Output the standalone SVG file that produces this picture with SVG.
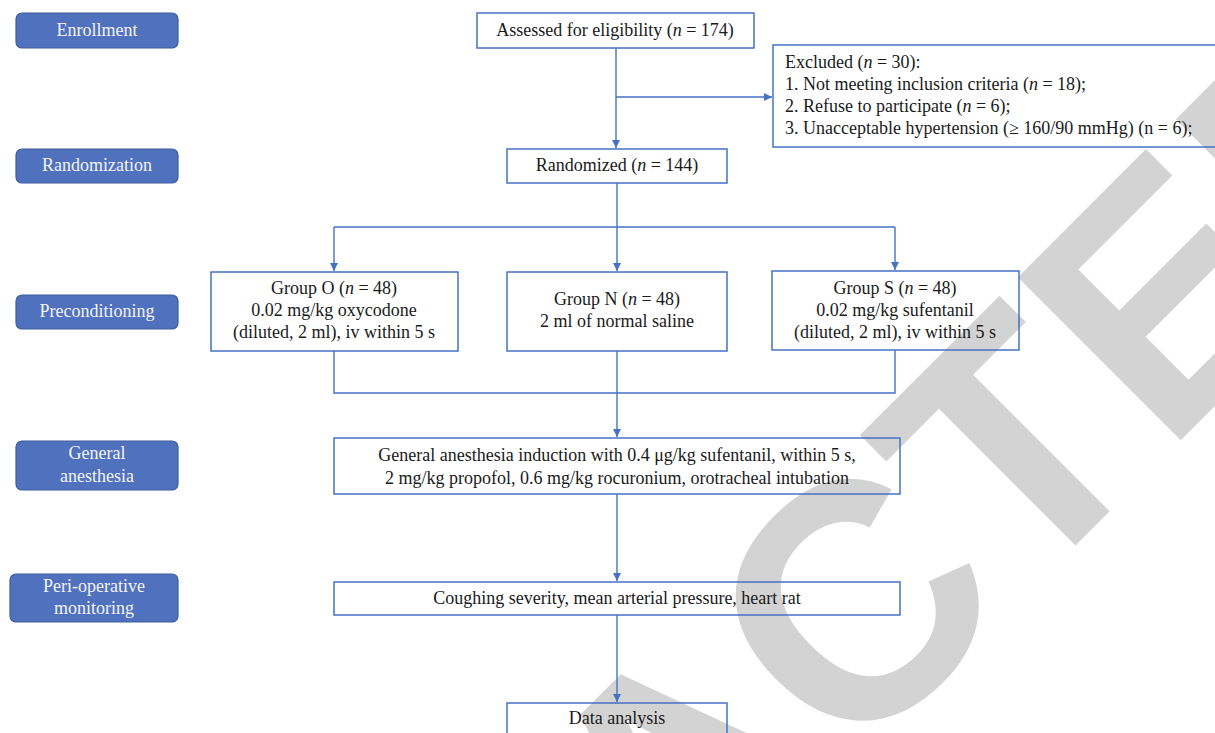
<svg xmlns="http://www.w3.org/2000/svg" width="1215" height="733" viewBox="0 0 1215 733">
<style>
.wm{font-family:"Liberation Sans",Arial,sans-serif;font-weight:bold;font-size:335px;fill:#d3d3d3}
.lab rect{fill:#4f71be;stroke:#3e5c9c;stroke-width:1.2}
.lab text{font-size:18px;fill:#f4f4f4;text-anchor:middle}
.box rect{fill:none;stroke:#4472c4;stroke-width:1.5}
.box text{font-size:18px;fill:#1a1a1a;text-anchor:middle}
.box text.l{text-anchor:start}
.it{font-style:italic}
#connectors path{fill:none;stroke:#4472c4;stroke-width:1.4}
</style>
<defs>
<marker id="ah" viewBox="0 0 10 10" refX="10" refY="5" markerWidth="6" markerHeight="6" markerUnits="strokeWidth" orient="auto">
<path d="M0,0 L10,5 L0,10 Z" fill="#4472c4"/>
</marker>
</defs>
<rect width="1215" height="733" fill="#ffffff"/>
<text class="wm" text-anchor="middle" transform="translate(836,785) rotate(-45)">REDACTED</text>

<g font-family="'Liberation Serif', 'Times New Roman', serif">
<g id="lab-enrollment" class="lab"><rect x="16" y="13" width="162" height="35" rx="6"/><text x="97" y="36">Enrollment</text></g>
<g id="lab-randomization" class="lab"><rect x="16" y="149" width="162" height="34" rx="6"/><text x="97" y="171">Randomization</text></g>
<g id="lab-preconditioning" class="lab"><rect x="16" y="295" width="162" height="34" rx="6"/><text x="97" y="317">Preconditioning</text></g>
<g id="lab-general" class="lab"><rect x="16" y="441" width="162" height="49" rx="6"/><text x="97" y="459">General</text><text x="97" y="482">anesthesia</text></g>
<g id="lab-peri" class="lab"><rect x="10" y="574" width="168" height="48" rx="6"/><text x="94" y="592">Peri-operative</text><text x="94" y="614">monitoring</text></g>

<g id="connectors">
<path d="M616,48 V148" marker-end="url(#ah)"/>
<path d="M616,97 H772" marker-end="url(#ah)"/>
<path d="M617,183 V227"/>
<path d="M334,227 H895"/>
<path d="M334,227 V271" marker-end="url(#ah)"/>
<path d="M617,227 V271" marker-end="url(#ah)"/>
<path d="M895,227 V270" marker-end="url(#ah)"/>
<path d="M334,351 V393 H895 V350"/>
<path d="M617,351 V437" marker-end="url(#ah)"/>
<path d="M617,494 V581" marker-end="url(#ah)"/>
<path d="M617,615 V702" marker-end="url(#ah)"/>
</g>

<g id="n-assessed" class="box"><rect x="477" y="13" width="277" height="35"/><text x="615" y="36">Assessed for eligibility (<tspan class="it">n</tspan> = 174)</text></g>
<g id="n-excluded" class="box"><rect x="773" y="45" width="450" height="102"/>
<text class="l" x="785" y="68">Excluded (<tspan class="it">n</tspan> = 30):</text>
<text class="l" x="785" y="90">1. Not meeting inclusion criteria (<tspan class="it">n</tspan> = 18);</text>
<text class="l" x="785" y="112">2. Refuse to participate (<tspan class="it">n</tspan> = 6);</text>
<text class="l" x="785" y="134">3. Unacceptable hypertension (≥ 160/90 mmHg) (n = 6);</text></g>
<g id="n-randomized" class="box"><rect x="507" y="149" width="220" height="34"/><text x="617" y="171">Randomized (<tspan class="it">n</tspan> = 144)</text></g>
<g id="n-groupO" class="box"><rect x="211" y="272" width="247" height="79"/>
<text x="334" y="294">Group O (<tspan class="it">n</tspan> = 48)</text>
<text x="334" y="316">0.02 mg/kg oxycodone</text>
<text x="334" y="338">(diluted, 2 ml), iv within 5 s</text></g>
<g id="n-groupN" class="box"><rect x="507" y="272" width="220" height="79"/>
<text x="617" y="305">Group N (<tspan class="it">n</tspan> = 48)</text>
<text x="617" y="327">2 ml of normal saline</text></g>
<g id="n-groupS" class="box"><rect x="772" y="271" width="247" height="79"/>
<text x="895" y="294">Group S (<tspan class="it">n</tspan> = 48)</text>
<text x="895" y="316">0.02 mg/kg sufentanil</text>
<text x="895" y="338">(diluted, 2 ml), iv within 5 s</text></g>
<g id="n-induction" class="box"><rect x="334" y="438" width="566" height="56"/>
<text x="617" y="461">General anesthesia induction with 0.4 μg/kg sufentanil, within 5 s,</text>
<text x="617" y="484">2 mg/kg propofol, 0.6 mg/kg rocuronium, orotracheal intubation</text></g>
<g id="n-monitoring" class="box"><rect x="334" y="582" width="566" height="33"/><text x="617" y="604">Coughing severity, mean arterial pressure, heart rat</text></g>
<g id="n-analysis" class="box"><rect x="507" y="703" width="220" height="40"/><text x="617" y="724">Data analysis</text></g>
</g>
</svg>
